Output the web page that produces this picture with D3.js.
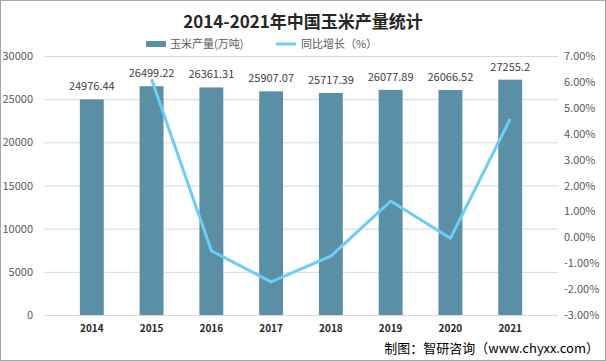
<!DOCTYPE html>
<html lang="zh">
<meta charset="utf-8">
<head>
<script src="https://d3js.org/d3.v7.min.js"></script>
<style>
  body { margin: 0; background: #fff; }
  svg { font-family: "Microsoft YaHei", "Noto Sans CJK SC", sans-serif; }
</style>
</head>
<body>
<div id="chart"></div>
<script>
// data
var years = ["2014", "2015", "2016", "2017", "2018", "2019", "2020", "2021"];
var output = [24976.44, 26499.22, 26361.31, 25907.07, 25717.39, 26077.89, 26066.52, 27255.2];
var growth = [null, 6.10, -0.52, -1.72, -0.73, 1.40, -0.04, 4.57];
var leftTicks = [0, 5000, 10000, 15000, 20000, 25000, 30000];
var rightTicks = [-3, -2, -1, 0, 1, 2, 3, 4, 5, 6, 7];

var W = 606, H = 361;
var margin = {top: 56, right: 48, bottom: 46, left: 44};

var svg = d3.select("#chart").append("svg")
  .attr("width", W).attr("height", H);

svg.append("rect")
  .attr("x", 0.5).attr("y", 0.5)
  .attr("width", W - 1).attr("height", H - 1)
  .attr("fill", "#fff").attr("stroke", "#a6a6a6");

var x = d3.scaleBand().domain(years)
  .range([margin.left, W - margin.right]).padding(0.6);
var y = d3.scaleLinear().domain([0, 30000])
  .range([H - margin.bottom, margin.top]);
var y2 = d3.scaleLinear().domain([-3, 7])
  .range([H - margin.bottom, margin.top]);

// gridlines
svg.append("g").selectAll("line")
  .data(leftTicks).enter().append("line")
  .attr("x1", margin.left).attr("x2", W - margin.right)
  .attr("y1", function(d) { return y(d) + 0.5; })
  .attr("y2", function(d) { return y(d) + 0.5; })
  .attr("stroke", "#d9d9d9");

// left axis labels
svg.append("g").selectAll("text")
  .data(leftTicks).enter().append("text")
  .attr("x", 33).attr("y", function(d) { return y(d) + 4; })
  .attr("text-anchor", "end")
  .attr("font-size", 11).attr("fill", "#595959")
  .text(function(d) { return d; });

// right axis labels
svg.append("g").selectAll("text")
  .data(rightTicks).enter().append("text")
  .attr("x", 564).attr("y", function(d) { return y2(d) + 4; })
  .attr("font-size", 11).attr("fill", "#595959")
  .text(function(d) { return d.toFixed(2) + "%"; });

// bars
svg.append("g").selectAll("rect")
  .data(output).enter().append("rect")
  .attr("x", function(d, i) { return x(years[i]); })
  .attr("y", function(d) { return y(d); })
  .attr("width", x.bandwidth())
  .attr("height", function(d) { return y(0) - y(d); })
  .attr("fill", "#5b8fa6");

// bar labels
svg.append("g").selectAll("text")
  .data(output).enter().append("text")
  .attr("x", function(d, i) { return x(years[i]) + x.bandwidth() / 2; })
  .attr("y", function(d) { return y(d) - 9; })
  .attr("text-anchor", "middle")
  .attr("font-size", 11).attr("fill", "#404040")
  .text(function(d) { return d; });

// x labels
svg.append("g").selectAll("text")
  .data(years).enter().append("text")
  .attr("x", function(d) { return x(d) + x.bandwidth() / 2; })
  .attr("y", y(0) + 17)
  .attr("text-anchor", "middle")
  .attr("font-size", 10).attr("font-weight", "bold").attr("fill", "#262626")
  .text(function(d) { return d; });

// growth line
var line = d3.line()
  .defined(function(d) { return d != null; })
  .x(function(d, i) { return x(years[i]) + x.bandwidth() / 2; })
  .y(function(d) { return y2(d); });
svg.append("path")
  .datum(growth)
  .attr("d", line)
  .attr("fill", "none")
  .attr("stroke", "#6ccdf5")
  .attr("stroke-width", 3)
  .attr("stroke-linejoin", "round");

// title
svg.append("text")
  .attr("x", W / 2).attr("y", 28)
  .attr("text-anchor", "middle")
  .attr("font-size", 17).attr("font-weight", "bold").attr("fill", "#262626")
  .text("2014-2021年中国玉米产量统计");

// legend
svg.append("rect")
  .attr("x", 146).attr("y", 41).attr("width", 20).attr("height", 6)
  .attr("fill", "#5b8fa6");
svg.append("text")
  .attr("x", 170).attr("y", 48).attr("font-size", 11).attr("fill", "#595959")
  .text("玉米产量(万吨)");
svg.append("line")
  .attr("x1", 276).attr("x2", 296).attr("y1", 44).attr("y2", 44)
  .attr("stroke", "#6ccdf5").attr("stroke-width", 3);
svg.append("text")
  .attr("x", 301).attr("y", 48).attr("font-size", 11).attr("fill", "#595959")
  .text("同比增长（%）");

// source
svg.append("text")
  .attr("x", W - 7).attr("y", 353)
  .attr("text-anchor", "end")
  .attr("font-size", 13).attr("fill", "#000")
  .text("制图：智研咨询（www.chyxx.com）");
</script>
</body>
</html>
